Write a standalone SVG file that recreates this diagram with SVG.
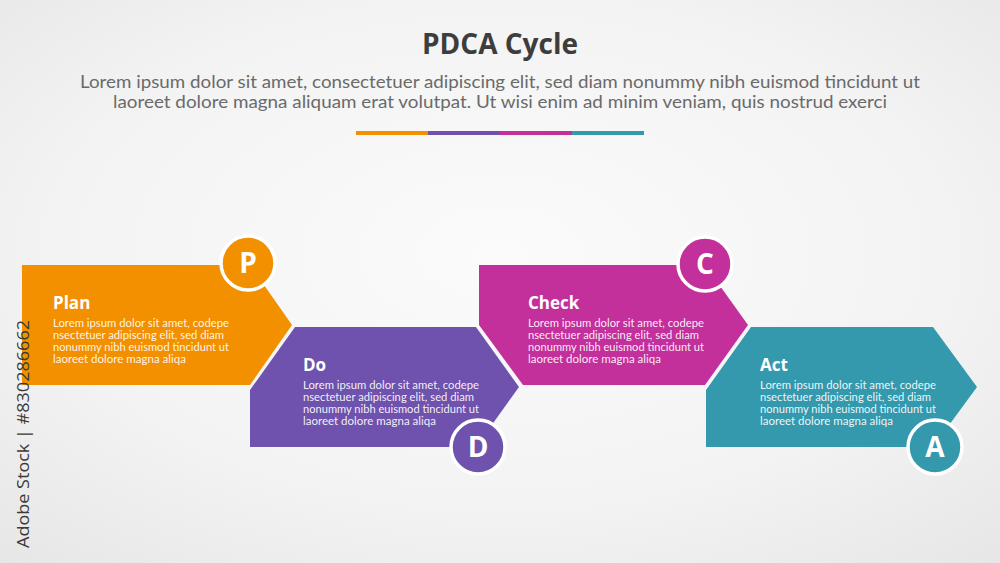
<svg xmlns="http://www.w3.org/2000/svg" width="1000" height="563" viewBox="0 0 1000 563">
<defs>
<radialGradient id="bg" cx="50%" cy="45%" r="75%">
<stop offset="0" stop-color="#fbfbfb"/>
<stop offset="0.6" stop-color="#f3f3f3"/>
<stop offset="1" stop-color="#e6e6e6"/>
</radialGradient>
<style>
.title{font-family:"Open Sans","Liberation Sans",sans-serif;font-weight:700;font-size:28px;fill:#3d3d3d;text-anchor:middle}
.sub{font-family:Lato,"Liberation Sans",sans-serif;font-size:16.5px;fill:#6a6a6a;text-anchor:middle}
.head{font-family:"Open Sans","Liberation Sans",sans-serif;font-weight:700;font-size:17px;fill:#ffffff}
.body{font-family:Lato,"Liberation Sans",sans-serif;font-size:11.5px;fill:#ffffff;fill-opacity:0.92}
.letter{font-family:"Open Sans","Liberation Sans",sans-serif;font-weight:700;font-size:28px;fill:#ffffff;text-anchor:middle}
.ring{stroke:#ffffff;stroke-width:3.5}
.wm{font-family:"Open Sans","Liberation Sans",sans-serif;font-size:17px;fill:#3a3a3a}
.orange{fill:#f39000}
.purple{fill:#6f52ae}
.magenta{fill:#c3309b}
.teal{fill:#3599ad}
</style>
</defs>
<rect x="0" y="0" width="1000" height="563" fill="url(#bg)"/>
<g id="header">
<text class="title" x="500" y="54">PDCA Cycle</text>
<text class="sub" x="500" y="88" textLength="840" lengthAdjust="spacingAndGlyphs">Lorem ipsum dolor sit amet, consectetuer adipiscing elit, sed diam nonummy nibh euismod tincidunt ut</text>
<text class="sub" x="500" y="108" textLength="774" lengthAdjust="spacingAndGlyphs">laoreet dolore magna aliquam erat volutpat. Ut wisi enim ad minim veniam, quis nostrud exerci</text>
<rect class="orange" x="356" y="131" width="72" height="4"/>
<rect class="purple" x="428" y="131" width="72" height="4"/>
<rect class="magenta" x="500" y="131" width="72" height="4"/>
<rect class="teal" x="572" y="131" width="72" height="4"/>
</g>
<g id="connectors"></g>
<g id="plan">
<polygon class="orange" points="22,265 250,265 292,325 250,385 22,385"/>
<text class="head" x="53" y="309">Plan</text>
<text class="body" x="53" y="327" textLength="176" lengthAdjust="spacingAndGlyphs">Lorem ipsum dolor sit amet, codepe</text>
<text class="body" x="53" y="339" textLength="171" lengthAdjust="spacingAndGlyphs">nsectetuer adipiscing elit, sed diam</text>
<text class="body" x="53" y="351" textLength="176" lengthAdjust="spacingAndGlyphs">nonummy nibh euismod tincidunt ut</text>
<text class="body" x="53" y="363" textLength="133" lengthAdjust="spacingAndGlyphs">laoreet dolore magna aliqa</text>
</g>
<g id="do">
<polygon class="purple" points="295,327 476,327 519,387 476,447 250,447 250,390"/>
<text class="head" x="303" y="371">Do</text>
<text class="body" x="303" y="389" textLength="176" lengthAdjust="spacingAndGlyphs">Lorem ipsum dolor sit amet, codepe</text>
<text class="body" x="303" y="401" textLength="171" lengthAdjust="spacingAndGlyphs">nsectetuer adipiscing elit, sed diam</text>
<text class="body" x="303" y="413" textLength="176" lengthAdjust="spacingAndGlyphs">nonummy nibh euismod tincidunt ut</text>
<text class="body" x="303" y="425" textLength="133" lengthAdjust="spacingAndGlyphs">laoreet dolore magna aliqa</text>
</g>
<g id="check">
<polygon class="magenta" points="479,265 705,265 748,325 705,385 523,385 479,325"/>
<text class="head" x="528" y="309">Check</text>
<text class="body" x="528" y="327" textLength="176" lengthAdjust="spacingAndGlyphs">Lorem ipsum dolor sit amet, codepe</text>
<text class="body" x="528" y="339" textLength="171" lengthAdjust="spacingAndGlyphs">nsectetuer adipiscing elit, sed diam</text>
<text class="body" x="528" y="351" textLength="176" lengthAdjust="spacingAndGlyphs">nonummy nibh euismod tincidunt ut</text>
<text class="body" x="528" y="363" textLength="133" lengthAdjust="spacingAndGlyphs">laoreet dolore magna aliqa</text>
</g>
<g id="act">
<polygon class="teal" points="751,327 933,327 977,387 933,447 706,447 706,390"/>
<text class="head" x="760" y="371">Act</text>
<text class="body" x="760" y="389" textLength="176" lengthAdjust="spacingAndGlyphs">Lorem ipsum dolor sit amet, codepe</text>
<text class="body" x="760" y="401" textLength="171" lengthAdjust="spacingAndGlyphs">nsectetuer adipiscing elit, sed diam</text>
<text class="body" x="760" y="413" textLength="176" lengthAdjust="spacingAndGlyphs">nonummy nibh euismod tincidunt ut</text>
<text class="body" x="760" y="425" textLength="133" lengthAdjust="spacingAndGlyphs">laoreet dolore magna aliqa</text>
</g>
<g id="badge-p">
<circle class="orange ring" cx="248" cy="263" r="27"/>
<text class="letter" x="248" y="273">P</text>
</g>
<g id="badge-d">
<circle class="purple ring" cx="478" cy="447" r="27"/>
<text class="letter" x="478" y="457">D</text>
</g>
<g id="badge-c">
<circle class="magenta ring" cx="705" cy="264" r="27"/>
<text class="letter" x="705" y="274">C</text>
</g>
<g id="badge-a">
<circle class="teal ring" cx="935" cy="447" r="27"/>
<text class="letter" x="935" y="457">A</text>
</g>
<text class="wm" transform="translate(29,548) rotate(-90)" textLength="228" lengthAdjust="spacingAndGlyphs">Adobe Stock | #830286662</text>
</svg>
